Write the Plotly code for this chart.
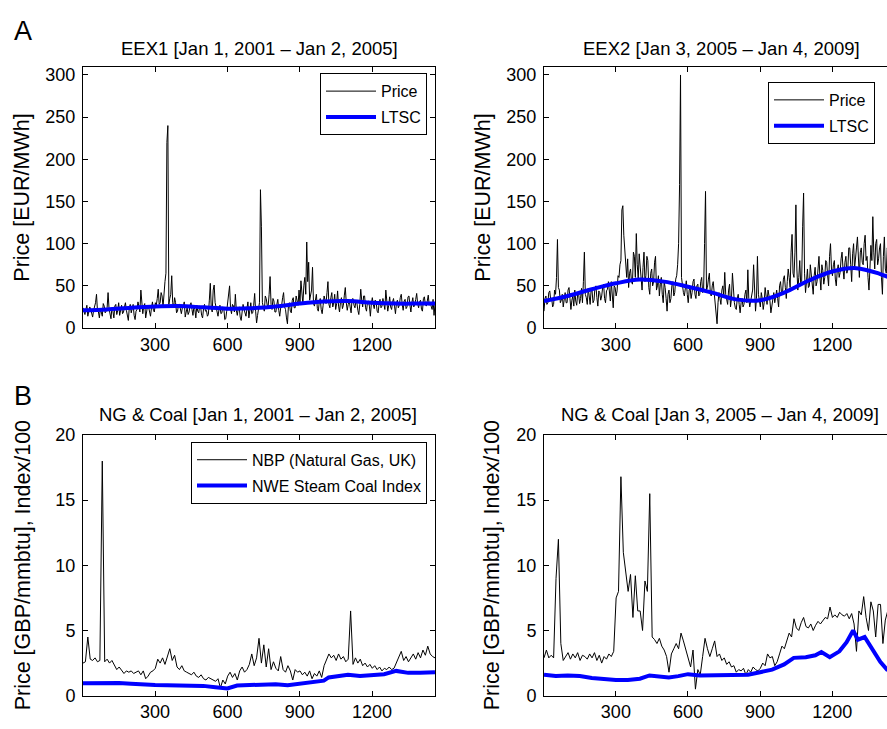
import plotly.graph_objects as go

W, H = 887, 729

# ---------------- data ----------------
# EEX1 spot price, sampled every 4 days (day index 1..1461)
eex1_days = list(range(1, 1462, 4))
eex1_price = [
    24, 19, 16, 22, 27, 14, 18, 25, 22, 17, 13, 21, 25, 30, 40, 20, 19, 12, 23, 18,
    14, 29, 26, 18, 20, 24, 42, 23, 17, 11, 24, 20, 12, 26, 28, 16, 21, 30, 15, 22,
    27, 17, 19, 25, 30, 21, 13, 9, 24, 28, 18, 23, 28, 15, 10, 20, 22, 31, 26, 19,
    45, 22, 17, 26, 29, 12, 20, 27, 25, 18, 14, 24, 31, 21, 19, 30, 27, 35, 46, 28,
    30, 42, 38, 25, 45, 55, 65, 220, 240, 28, 35, 40, 62, 30, 24, 36, 30, 18, 20, 27,
    28, 21, 17, 24, 26, 31, 13, 19, 24, 16, 19, 27, 30, 22, 15, 25, 22, 12, 27, 20,
    18, 26, 25, 15, 12, 23, 28, 20, 21, 14, 16, 33, 53, 24, 19, 45, 51, 30, 23, 16,
    14, 22, 27, 17, 18, 25, 24, 10, 11, 20, 29, 36, 50, 23, 17, 28, 26, 19, 40, 21,
    15, 24, 25, 13, 9, 19, 28, 22, 19, 14, 23, 31, 12, 25, 30, 17, 18, 27, 41, 20,
    6, 15, 24, 30, 164, 120, 30, 22, 20, 38, 35, 27, 26, 40, 61, 28, 22, 35, 32, 19,
    19, 28, 34, 21, 14, 24, 27, 36, 42, 25, 22, 12, 5, 26, 30, 20, 18, 33, 36, 24,
    24, 38, 33, 27, 45, 30, 56, 35, 28, 50, 60, 40, 102, 55, 78, 33, 38, 45, 72, 29,
    26, 34, 40, 23, 20, 31, 35, 22, 17, 27, 38, 33, 29, 42, 55, 28, 24, 36, 42, 25,
    30, 40, 22, 29, 44, 26, 19, 31, 36, 23, 27, 39, 48, 30, 21, 28, 33, 25, 18, 34,
    35, 27, 24, 32, 30, 21, 16, 28, 46, 33, 25, 38, 38, 24, 20, 31, 32, 26, 14, 29,
    36, 28, 23, 33, 31, 20, 18, 29, 34, 24, 26, 35, 29, 22, 45, 31, 20, 27, 37, 25,
    22, 31, 35, 26, 17, 29, 33, 24, 27, 36, 40, 28, 21, 32, 34, 23, 25, 37, 38, 27,
    19, 30, 36, 25, 28, 34, 41, 29, 24, 31, 33, 22, 20, 35, 37, 28, 26, 32, 39, 27,
    30, 26, 22, 34, 15, 28,
]
ltsc_days = [1, 100, 200, 300, 400, 500, 600, 700, 800, 900, 1000, 1100, 1200, 1300, 1400, 1461]
eex1_ltsc = [21, 22, 24, 25.5, 26, 24.5, 23, 23.5, 25.5, 29, 31.5, 32, 30, 29, 29, 29]

# EEX2 spot price, sampled every 4 days
eex2_days = list(range(1, 1462, 4))
eex2_price = [
    20, 35, 38, 28, 30, 42, 44, 33, 35, 25, 28, 45, 40, 60, 105, 48, 45, 30, 33, 40,
    25, 36, 42, 30, 30, 45, 48, 35, 22, 33, 38, 26, 45, 32, 27, 40, 41, 29, 35, 47,
    30, 55, 90, 40, 36, 28, 47, 38, 28, 45, 44, 30, 33, 48, 50, 36, 26, 44, 42, 33,
    38, 48, 52, 35, 30, 44, 46, 55, 40, 32, 55, 42, 24, 50, 48, 38, 44, 62, 60, 75,
    80, 140, 145, 110, 95, 70, 60, 82, 48, 65, 70, 55, 52, 90, 85, 60, 112, 75, 58, 88,
    75, 60, 45, 72, 90, 55, 62, 85, 80, 48, 40, 65, 70, 50, 55, 78, 85, 45, 50, 62,
    38, 52, 60, 40, 30, 55, 48, 35, 20, 40, 45, 30, 35, 50, 55, 38, 42, 58, 62, 75,
    100, 170, 300, 60, 50, 42, 38, 52, 56, 40, 30, 45, 48, 35, 42, 55, 58, 40, 35, 50,
    52, 38, 40, 55, 60, 42, 45, 100, 162, 45, 48, 58, 65, 40, 38, 50, 55, 42, 30, 22,
    5, 30, 42, 35, 28, 45, 50, 38, 66, 40, 35, 28, 45, 52, 25, 35, 65, 40, 30, 24,
    22, 35, 40, 28, 18, 30, 35, 25, 28, 40, 45, 30, 69, 35, 25, 32, 38, 45, 75, 30,
    20, 35, 85, 40, 30, 25, 42, 35, 22, 30, 48, 38, 28, 45, 40, 32, 18, 28, 35, 42,
    30, 40, 45, 35, 25, 50, 55, 42, 40, 58, 62, 48, 35, 55, 70, 60, 48, 90, 111, 65,
    60, 90, 146, 70, 45, 60, 80, 52, 55, 120, 160, 65, 42, 55, 70, 48, 50, 75, 65, 55,
    40, 62, 72, 50, 55, 70, 85, 60, 45, 75, 68, 52, 60, 80, 78, 62, 50, 85, 100, 70,
    62, 75, 80, 58, 50, 68, 75, 60, 66, 82, 90, 70, 58, 78, 85, 65, 70, 95, 95, 75,
    55, 88, 100, 70, 80, 95, 108, 72, 60, 90, 95, 78, 75, 100, 110, 80, 85, 60, 45, 70,
    98, 80, 132, 90, 70, 100, 105, 75, 82, 95, 100, 60, 40, 85, 108, 70, 65, 95, 90, 60,
    72, 90, 55, 80, 95, 70,
]
eex2_ltsc = [32, 38, 46, 53, 57.5, 55, 49, 42, 34, 33, 42, 56, 67, 71, 64, 57]

# NBP natural gas, sampled every 10 days
nbp_days = list(range(1, 1462, 10))
nbp1 = [
    2.5, 2.6, 4.5, 2.8, 2.7, 2.9, 2.6, 2.7, 18.0, 2.6,
    2.8, 2.5, 2.7, 2.3, 2.0, 2.2, 1.9, 1.7, 1.9, 1.8,
    1.9, 1.7, 1.8, 1.9, 1.6, 1.9, 1.3, 1.5, 1.8, 1.9,
    2.1, 2.8, 2.5, 2.9, 2.4, 3.0, 3.6, 2.7, 3.1, 2.2,
    2.0, 2.3, 1.9, 1.8, 1.7, 1.6, 1.8, 1.5, 1.4, 1.6,
    1.3, 1.2, 1.4, 1.3, 1.2, 1.1, 1.3, 0.6, 1.2, 0.9,
    1.5, 1.8, 1.4, 1.7, 1.2, 1.9, 2.2, 1.8, 2.0, 2.4,
    3.2, 2.3, 2.9, 4.4, 2.5, 3.9, 2.2, 3.6, 2.0, 2.6,
    2.1, 1.9, 3.0, 2.0, 1.8, 2.3, 1.9, 1.2, 2.0, 1.8,
    1.9, 1.6, 1.8, 1.5, 1.9, 1.3, 1.7, 1.5, 1.9, 1.4,
    2.3, 2.8, 3.2, 2.9, 3.1, 2.7, 3.2, 2.8, 3.0, 2.6,
    2.8, 6.5, 2.4, 2.9, 2.5, 2.8, 2.3, 2.5, 2.2, 2.4,
    2.1, 2.3, 2.0, 2.2, 1.9, 2.1, 2.0, 2.2, 2.0, 2.1,
    2.5, 2.9, 3.4, 2.7, 3.0, 2.6, 2.9, 3.2, 2.8, 3.3,
    2.9, 3.5, 3.1, 3.8, 3.2, 3.0, 2.9,
]
nbp2 = [
    2.9, 3.5, 2.9, 3.1, 2.9, 9.0, 12.0, 4.0, 2.7, 3.0,
    3.3, 2.8, 3.2, 2.9, 3.3, 2.7, 3.1, 3.0, 2.8, 3.2,
    2.9, 3.3, 2.7, 3.1, 2.5, 3.0, 2.8, 3.2, 3.0, 3.4,
    7.5, 8.0, 16.8, 11.0, 9.5, 8.0, 9.3, 6.0, 9.2, 6.5,
    6.5, 5.0, 8.8, 8.0, 15.5, 4.5, 4.3, 4.0, 4.4, 3.8,
    3.5, 3.0, 1.8, 3.2, 3.6, 4.0, 3.6, 4.8, 4.2, 3.5,
    3.0, 2.2, 3.5, 0.5, 2.0, 1.6, 3.0, 4.4, 3.6, 3.0,
    3.6, 4.2, 3.0, 3.2, 2.7, 2.9, 2.4, 2.6, 2.2, 2.3,
    1.8, 2.0, 1.9, 2.1, 1.6, 2.0, 1.8, 2.2, 2.0, 1.9,
    2.1, 2.5, 2.3, 3.2, 2.9, 3.0, 2.3, 2.6, 3.2, 3.8,
    3.6, 4.2, 4.8, 4.5, 5.9, 5.2, 5.0, 5.6, 6.0, 5.3,
    5.2, 5.5, 5.0, 5.4, 5.7, 5.5, 5.8, 6.0, 5.9, 6.8,
    6.0, 6.2, 6.0, 6.4, 6.2, 6.1, 6.3, 5.9, 6.3, 5.5,
    3.4, 6.5, 6.2, 7.6, 6.0, 5.0, 7.2, 6.5, 4.5, 7.0,
    7.0, 4.0, 5.8, 6.5, 5.2, 6.0, 5.5,
]

# NWE steam coal index / 100
coal1_days = [1, 50, 100, 150, 200, 250, 300, 350, 400, 450, 500, 550, 580, 600, 640, 700,
              750, 800, 850, 900, 950, 1000, 1020, 1060, 1100, 1150, 1200, 1250, 1300, 1350, 1400, 1461]
coal1 = [0.95, 0.97, 0.95, 0.97, 0.92, 0.85, 0.82, 0.8, 0.8, 0.78, 0.75, 0.65, 0.55, 0.55, 0.78, 0.82,
         0.85, 0.88, 0.8, 0.9, 1.0, 1.15, 1.4, 1.5, 1.6, 1.5, 1.6, 1.65, 1.9, 1.75, 1.75, 1.8]
coal2_days = [1, 50, 100, 150, 200, 250, 300, 350, 400, 440, 480, 520, 560, 600, 650, 700, 750, 800,
              850, 900, 950, 1000, 1040, 1090, 1130, 1155, 1190, 1230, 1260, 1287, 1307, 1335, 1370,
              1400, 1428, 1461]
coal2 = [1.6, 1.5, 1.55, 1.5, 1.35, 1.25, 1.2, 1.2, 1.3, 1.55, 1.45, 1.4, 1.5, 1.65, 1.55, 1.55, 1.55, 1.6,
         1.6, 1.8, 2.0, 2.4, 2.9, 2.95, 3.1, 3.35, 2.95, 3.4, 4.1, 5.0, 4.3, 4.5, 3.5,
         2.6, 2.0, 1.7]

x_ticks = [300, 600, 900, 1200]
y_ticks_top = [0, 50, 100, 150, 200, 250, 300]
y_ticks_bot = [0, 5, 10, 15, 20]

titles = ["EEX1 [Jan 1, 2001 \u2013 Jan 2, 2005]", "EEX2 [Jan 3, 2005 \u2013 Jan 4, 2009]",
          "NG & Coal [Jan 1, 2001 \u2013 Jan 2, 2005]", "NG & Coal [Jan 3, 2005 \u2013 Jan 4, 2009]"]
ylab_top = "Price [EUR/MWh]"
ylab_bot = "Price [GBP/mmbtu], Index/100"

# ---------------- figure ----------------
FONT = "Liberation Sans, Arial, Helvetica, sans-serif"
TICK = 18

def px_x(p):
    return p / W

def px_y(p):
    return 1 - p / H

xl = [px_x(83), px_x(435)]
xr = [px_x(544), 1.0]
yt = [px_y(327), px_y(59)]
yb = [px_y(705), px_y(437)]

fig = go.Figure()

def line(x, y, color, width, name, xa, ya, legend=None, show=True, shape="linear", group=None):
    fig.add_trace(go.Scatter(
        x=x, y=y, mode="lines", name=name,
        line=dict(color=color, width=width, shape=shape),
        xaxis=xa, yaxis=ya, showlegend=show,
        legend=legend if legend else "legend",
        legendgroup=group, hoverinfo="skip"))

line(eex1_days, eex1_price, "black", 1, "Price", "x", "y", "legend", group="a1")
line(ltsc_days, eex1_ltsc, "#0000ff", 4, "LTSC", "x", "y", "legend", shape="spline", group="a2")
line(eex2_days, eex2_price, "black", 1, "Price", "x2", "y2", "legend2", group="b1")
line(ltsc_days, eex2_ltsc, "#0000ff", 4, "LTSC", "x2", "y2", "legend2", shape="spline", group="b2")
line(nbp_days, nbp1, "black", 1, "NBP (Natural Gas, UK)", "x3", "y3", "legend3", group="c1")
line(coal1_days, coal1, "#0000ff", 4, "NWE Steam Coal Index", "x3", "y3", "legend3", group="c2")
line(nbp_days, nbp2, "black", 1, "NBP (Natural Gas, UK)", "x4", "y4", show=False)
line(coal2_days, coal2, "#0000ff", 4, "NWE Steam Coal Index", "x4", "y4", show=False)

def xax(domain, rng, anchor):
    return dict(domain=domain, range=rng, tickvals=x_ticks, ticks="inside", ticklen=5,
                tickcolor="black", showline=True, linecolor="black", linewidth=1,
                mirror="allticks", showgrid=False, zeroline=False, anchor=anchor,
                tickfont=dict(size=TICK, color="black", family=FONT), fixedrange=True)

def yax(domain, rng, tv, anchor, mirror=True):
    return dict(domain=domain, range=rng, tickvals=tv, ticks="inside", ticklen=5,
                tickcolor="black", showline=True, linecolor="black", linewidth=1,
                mirror="allticks" if mirror else False, showgrid=False, zeroline=False,
                anchor=anchor, ticklabelstandoff=3,
                tickfont=dict(size=TICK, color="black", family=FONT), fixedrange=True)

leg_common = dict(bgcolor="white", bordercolor="black", borderwidth=1,
                  font=dict(size=16, color="black", family=FONT), itemwidth=50,
                  tracegroupgap=2, yanchor="top")

fig.update_layout(
    width=W, height=H, margin=dict(l=0, r=0, t=0, b=0),
    paper_bgcolor="white", plot_bgcolor="white",
    font=dict(family=FONT, color="black"),
    xaxis=xax(xl, [1, 1461], "y"),
    yaxis=yax(yt, [0, 309], y_ticks_top, "x"),
    xaxis2=xax(xr, [1, 1428], "y2"),
    yaxis2=yax(yt, [0, 309], y_ticks_top, "x2", mirror=False),
    xaxis3=xax(xl, [1, 1461], "y3"),
    yaxis3=yax(yb, [0, 20], y_ticks_bot, "x3"),
    xaxis4=xax(xr, [1, 1428], "y4"),
    yaxis4=yax(yb, [0, 20], y_ticks_bot, "x4", mirror=False),
    legend=dict(x=px_x(427), y=px_y(65), xanchor="right", **leg_common),
    legend2=dict(x=px_x(768), y=px_y(74), xanchor="left", **leg_common),
    legend3=dict(x=px_x(427), y=px_y(444), xanchor="right", **leg_common),
)

ann = []
def text(s, x, y, size, angle=0, xanchor="center"):
    ann.append(dict(text=s, x=px_x(x), y=px_y(y), xref="paper", yref="paper",
                    showarrow=False, xanchor=xanchor, yanchor="middle", textangle=angle,
                    font=dict(size=size, color="black", family=FONT)))

text(titles[0], 259, 40, 18.5)
text(titles[1], 721, 40, 18.5)
text(titles[2], 258, 416, 18.5)
text(titles[3], 720, 416, 18.5)
text(ylab_top, 22, 193, 21.5, -90)
text(ylab_top, 483, 193, 21.5, -90)
text(ylab_bot, 23, 571, 21.5, -90)
text(ylab_bot, 492, 571, 21.5, -90)
text("A", 12, 22, 27, xanchor="left")
text("B", 12, 397, 27, xanchor="left")
fig.update_layout(annotations=ann)

fig.write_html("out.html")
